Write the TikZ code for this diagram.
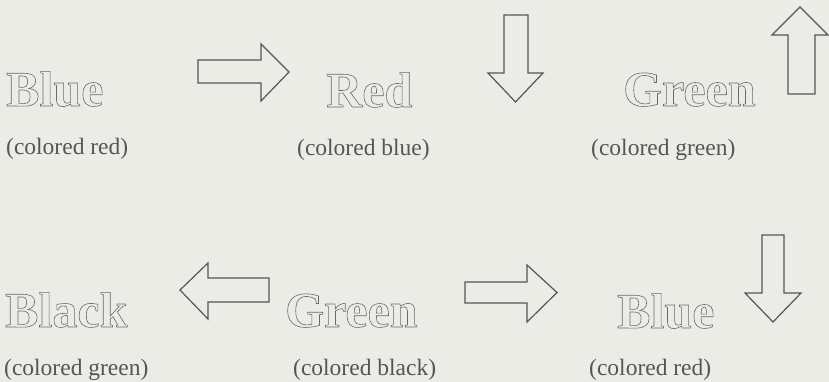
\documentclass[tikz,border=0pt]{standalone}
\usepackage{fontspec}
\setmainfont{Liberation Serif}
\usepackage{tikz}
\usetikzlibrary{positioning}
\definecolor{fond}{RGB}{236,236,231}
\definecolor{gris}{RGB}{85,85,85}
\definecolor{trait}{RGB}{105,105,105}
% lettres creuses (contour seul)
\newcommand{\creux}[1]{\special{pdf:literal direct 1 Tr 0.6 w}#1\special{pdf:literal direct 0 Tr 0.4 w}}

\begin{document}
\begin{tikzpicture}[x=1pt,y=-1pt,
	mot/.style={anchor=base west,inner sep=0pt,text=trait,
		font=\fontsize{50}{50}\selectfont\bfseries},
	legende/.style={anchor=base west,inner sep=0pt,text=gris,
		font=\fontsize{23.5}{24}\selectfont},
	fleche/.style={draw=gris,line width=1.2pt,line join=miter}]
				\fill[fond] (0,0) rectangle (829,382);
				\useasboundingbox (0,0) rectangle (829,382);
				% premiere ligne
				\node[mot] (bleuA) at (6,106){\creux{Blue}};
				\node[legende] (legA) at (6,155){(colored red)};
				\node[mot] (rougeB) at (326,107){\creux{Red}};
				\node[legende] (legB) at (297,156){(colored blue)};
				\node[mot] (vertC) at (623,106){\creux{Green}};
				\node[legende] (legC) at (591,156){(colored green)};
				\draw[fleche] (198,60)--(261,60)--(261,44)--(289,72)--(261,101)--(261,83)--(198,83)--cycle;
				\draw[fleche] (504,15)--(528,15)--(528,73)--(543,73)--(515.5,102)--(488,73)--(504,73)--cycle;
				\draw[fleche] (788,94)--(788,35)--(772,35)--(800,7)--(828,35)--(815,35)--(815,94)--cycle;
				% deuxieme ligne
				\node[mot] (noirD) at (5,327){\creux{Black}};
				\node[legende] (legD) at (4,375){(colored green)};
				\node[mot] (vertE) at (285,327){\creux{Green}};
				\node[legende] (legE) at (293,375){(colored black)};
				\node[mot] (bleuF) at (617,328){\creux{Blue}};
				\node[legende] (legF) at (589,375){(colored red)};
				\draw[fleche] (269,278)--(208,278)--(208,263)--(180,290)--(208,319)--(208,302)--(269,302)--cycle;
				\draw[fleche] (465,282)--(527,282)--(527,265)--(557,292.5)--(527,322)--(527,303)--(465,303)--cycle;
				\draw[fleche] (762,235)--(784,235)--(784,293)--(801,293)--(773,322)--(745,293)--(762,293)--cycle;
			\end{tikzpicture}
\end{document}
